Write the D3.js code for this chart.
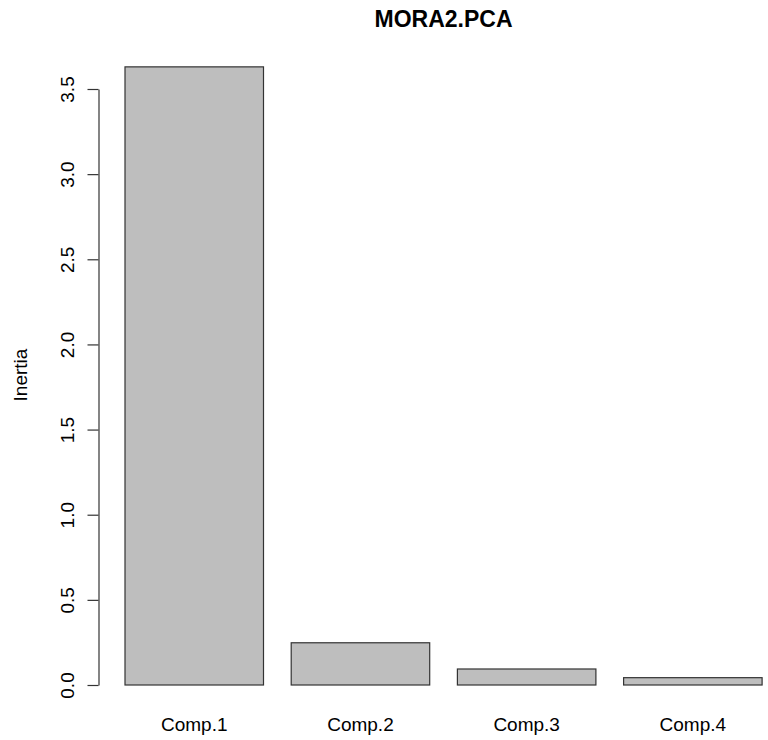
<!DOCTYPE html>
<html>
<head>
<meta charset="utf-8">
<script src="https://cdn.jsdelivr.net/npm/d3@7"></script>
<style>
  body { margin: 0; background: #fff; }
  svg text { font-family: "Liberation Sans", Arial, sans-serif; fill: #000; }
</style>
</head>
<body>
<svg id="chart" width="768" height="740"></svg>
<script>
let categories = ["Comp.1", "Comp.2", "Comp.3", "Comp.4"];
let inertia = [3.63, 0.248, 0.094, 0.043];
let yTicks = [0, 0.5, 1, 1.5, 2, 2.5, 3, 3.5];
let title = "MORA2.PCA";
let yLabel = "Inertia";

// R barplot layout: width 1, space 0.2
let barWidth = 1;
let barSpace = 0.2;

let svg = d3.select("#chart");

let x = d3.scaleLinear().domain([0, 4.8]).range([97.3, 762.1]);
let y = d3.scaleLinear().domain([0, 3.5]).range([685, 89]);

let bars = categories.map((c, i) => {
    let left = barSpace + i * (barWidth + barSpace);
    return { name: c, value: inertia[i], left: left, right: left + barWidth };
});

svg.append("g")
    .selectAll("rect")
    .data(bars)
    .enter()
    .append("rect")
    .attr("x", d => x(d.left))
    .attr("y", d => y(d.value))
    .attr("width", d => x(d.right) - x(d.left))
    .attr("height", d => y(0) - y(d.value))
    .style("fill", "#bebebe")
    .style("stroke", "#333")
    .style("stroke-width", "1.2");

// category names under the bars
svg.append("g")
    .selectAll("text")
    .data(bars)
    .enter()
    .append("text")
    .attr("x", d => x((d.left + d.right) / 2))
    .attr("y", 731)
    .attr("text-anchor", "middle")
    .style("font-size", "19px")
    .text(d => d.name);

// y axis
let yAxis = svg.append("g")
    .attr("transform", "translate(98.5,0)")
    .call(d3.axisLeft(y).tickValues(yTicks).tickSize(11).tickSizeOuter(0)
        .tickFormat(d3.format(".1f")));

yAxis.select(".domain").style("stroke", "#333").style("stroke-width", "1.2");
yAxis.selectAll(".tick line").style("stroke", "#333").style("stroke-width", "1.2");
yAxis.selectAll(".tick text")
    .attr("transform", "rotate(-90)")
    .attr("x", 0)
    .attr("y", -24.5)
    .attr("dy", 0)
    .attr("text-anchor", "middle")
    .style("font-family", "'Liberation Sans', Arial, sans-serif")
    .style("font-size", "19px")
    .style("fill", "#000");

svg.append("text")
    .attr("transform", "translate(26.5," + ((y(0) + y(3.5)) / 2 - 12) + ") rotate(-90)")
    .attr("text-anchor", "middle")
    .style("font-size", "19px")
    .text(yLabel);

svg.append("text")
    .attr("x", 443.5)
    .attr("y", 27)
    .attr("text-anchor", "middle")
    .style("font-size", "23px")
    .style("font-weight", "bold")
    .text(title);
</script>
</body>
</html>
